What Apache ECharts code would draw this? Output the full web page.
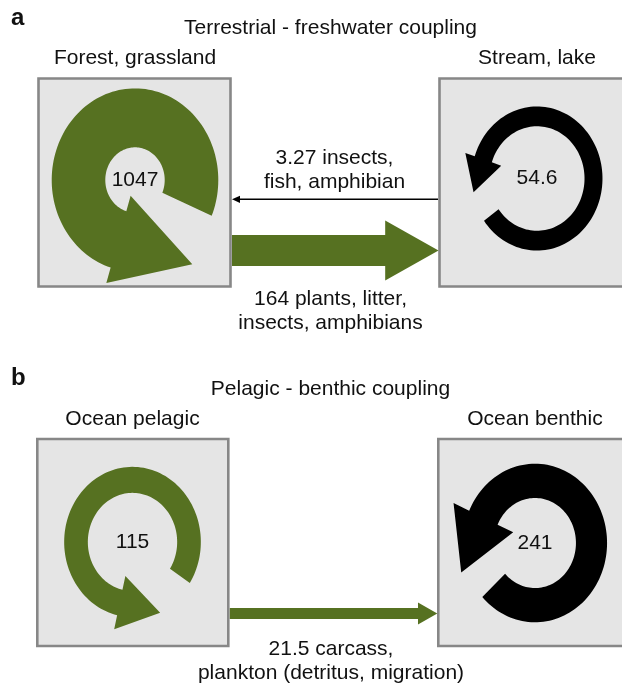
<!DOCTYPE html>
<html>
<head>
<meta charset="utf-8">
<script src="https://cdn.jsdelivr.net/npm/echarts@6/dist/echarts.min.js"></script>
<style>
html,body{margin:0;padding:0;background:#fff;}
#chart{width:622px;height:687px;}
</style>
</head>
<body>
<div id="chart"></div>
<script>
// ---------------- data ----------------
const panelLetters = ['a', 'b'];
const panelTitles = ['Terrestrial - freshwater coupling', 'Pelagic - benthic coupling'];
const nodeNames = ['Forest, grassland', 'Stream, lake', 'Ocean pelagic', 'Ocean benthic'];
const cycleValues = [1047, 54.6, 115, 241];
const flowValues = [164, 3.27, 21.5];
const flowText = ['plants, litter,\ninsects, amphibians', 'insects,\nfish, amphibian', 'carcass,\nplankton (detritus, migration)'];
const flowSource = [0, 1, 2];
const flowTarget = [1, 0, 3];

// ---------------- layout & style ----------------
const GREEN = '#567121';
const BLACK = '#000000';
const nodeColor = [GREEN, BLACK, GREEN, BLACK];
const FONT = '"Liberation Sans", Arial, Helvetica, sans-serif';
const FS = 21;
const LH = 24;
const MID = 0.3465; // baseline offset (em) for middle-aligned text

const panelLayout = [
  { letterX: 11, letterBase: 27, titleX: 330.5, titleBase: 35 },
  { letterX: 11, letterBase: 387, titleX: 330.5, titleBase: 396 }
];
const nodeLayout = [
  { box: [38.5, 78.5, 230.5, 286.5], cx: 135, cy: 180, nameBase: 65, start: -23, end: 253 },
  { box: [439.5, 78.5, 631.5, 286.5], cx: 537, cy: 178.5, nameBase: 65, start: 216, end: 522 },
  { box: [37.3, 439, 228.3, 646], cx: 132.5, cy: 542, nameBase: 426.5, start: -33, end: 257 },
  { box: [438.3, 439, 630, 646], cx: 535, cy: 543, nameBase: 426.5, start: 223, end: 516 }
];
const flowLayout = [
  { y: 250.5, labelX: 330.5, labelBase: 306.7 },
  { y: 199.3, labelX: 334.5, labelBase: 165 },
  { y: 613.5, labelX: 331, labelBase: 656.7 }
];

const RING_MID = 56.5;
const ASPECT = 1.1;
function ringWidth(v) { return 4.09 * Math.pow(v, 0.37); }
function flowWidth(v) { return 2.42 * Math.sqrt(v); }

function textEl(api, x, baseline, text, opts) {
  opts = opts || {};
  const fs = opts.fs || FS;
  const lines = text.split('\n').length;
  const lh = opts.lh || LH;
  const yMid = baseline + (lines - 1) * lh / 2 - MID * fs;
  const p = api.coord([x, yMid]);
  return {
    type: 'text',
    style: {
      text: text,
      x: p[0], y: p[1],
      font: (opts.weight || 'normal') + ' ' + fs + 'px ' + FONT,
      fill: opts.fill || '#111111',
      align: opts.align || 'center',
      verticalAlign: 'middle',
      lineHeight: lh
    }
  };
}

function renderPanel(params, api) {
  const i = api.value(0);
  const L = panelLayout[i];
  return {
    type: 'group',
    children: [
      textEl(api, L.letterX, L.letterBase, panelLetters[i], { fs: 24, weight: 'bold', align: 'left' }),
      textEl(api, L.titleX, L.titleBase, panelTitles[i])
    ]
  };
}

function renderBox(params, api) {
  const i = api.value(0);
  const L = nodeLayout[i];
  const p0 = api.coord([L.box[0], L.box[1]]);
  const p1 = api.coord([L.box[2], L.box[3]]);
  return {
    type: 'group',
    children: [
      {
        type: 'rect',
        shape: { x: p0[0], y: p0[1], width: p1[0] - p0[0], height: p1[1] - p0[1] },
        style: { fill: '#e5e5e5', stroke: '#878787', lineWidth: 2.6 }
      },
      textEl(api, L.cx, L.nameBase, nodeNames[i])
    ]
  };
}

function renderCycle(params, api) {
  const i = api.value(0);
  const v = api.value(1);
  const L = nodeLayout[i];
  const w = ringWidth(v);
  const rIn = RING_MID - w / 2, rOut = RING_MID + w / 2;
  const hw = Math.min(2.1 * w, 2 * (RING_MID - 15));
  const hl = Math.min(1.75 * w, 0.93 * hw);
  const a0 = L.start * Math.PI / 180, a1 = L.end * Math.PI / 180;
  const loc = (r, a) => [L.cx + r * Math.cos(a), L.cy - r * Math.sin(a) * ASPECT];
  const N = 120;
  const pts = [];
  for (let k = 0; k <= N; k++) pts.push(loc(rOut, a0 + (a1 - a0) * k / N));
  pts.push(loc(RING_MID + hw / 2, a1));
  const mx = RING_MID * Math.cos(a1), my = RING_MID * Math.sin(a1);
  const tx = mx - hl * Math.sin(a1), ty = my + hl * Math.cos(a1);
  pts.push([L.cx + tx, L.cy - ty * ASPECT]);
  pts.push(loc(RING_MID - hw / 2, a1));
  for (let k = N; k >= 0; k--) pts.push(loc(rIn, a0 + (a1 - a0) * k / N));
  return {
    type: 'group',
    children: [
      { type: 'polygon', shape: { points: pts.map(p => api.coord(p)) }, style: { fill: nodeColor[i] } },
      textEl(api, L.cx, L.cy + MID * FS, String(v))
    ]
  };
}

function renderFlow(params, api) {
  const i = api.value(0);
  const v = api.value(1);
  const F = flowLayout[i];
  const s = nodeLayout[flowSource[i]], t = nodeLayout[flowTarget[i]];
  const dir = t.box[0] > s.box[2] ? 1 : -1;
  const start = dir > 0 ? s.box[2] + 1.5 : s.box[0] - 1.5;
  const tip = dir > 0 ? t.box[0] - 1 : t.box[2] + 1.5;
  const y = F.y;
  const color = nodeColor[flowSource[i]];
  const th = flowWidth(v);
  const children = [];
  if (th < 6) {
    const hb = tip - dir * 8;
    const a = api.coord([start, y]), b = api.coord([hb, y]);
    children.push({ type: 'line', shape: { x1: a[0], y1: a[1], x2: b[0], y2: b[1] }, style: { stroke: color, lineWidth: 1.6 } });
    children.push({ type: 'polygon', shape: { points: [[tip, y], [hb, y - 3.6], [hb, y + 3.6]].map(p => api.coord(p)) }, style: { fill: color } });
  } else {
    const hb = tip - dir * 1.72 * th;
    const hh = 0.97 * th;
    const pts = [[start, y - th / 2], [hb, y - th / 2], [hb, y - hh], [tip, y], [hb, y + hh], [hb, y + th / 2], [start, y + th / 2]];
    children.push({ type: 'polygon', shape: { points: pts.map(p => api.coord(p)) }, style: { fill: color } });
  }
  children.push(textEl(api, F.labelX, F.labelBase, String(v) + ' ' + flowText[i]));
  return { type: 'group', children: children };
}

const chart = echarts.init(document.getElementById('chart'), null, { renderer: 'canvas' });
chart.setOption({
  animation: false,
  backgroundColor: '#ffffff',
  grid: { left: 0, right: 0, top: 0, bottom: 0, containLabel: false, outerBoundsMode: 'none' },
  xAxis: { type: 'value', min: 0, max: 622, show: false },
  yAxis: { type: 'value', min: 0, max: 687, inverse: true, show: false },
  series: [
    { type: 'custom', name: 'panels', renderItem: renderPanel, data: panelTitles.map((d, i) => [i]), z: 5, silent: true },
    { type: 'custom', name: 'boxes', renderItem: renderBox, data: nodeNames.map((d, i) => [i]), z: 1, silent: true },
    { type: 'custom', name: 'cycles', renderItem: renderCycle, data: cycleValues.map((v, i) => [i, v]), z: 2, silent: true },
    { type: 'custom', name: 'flows', renderItem: renderFlow, data: flowValues.map((v, i) => [i, v]), z: 3, silent: true }
  ]
});
</script>
</body>
</html>
